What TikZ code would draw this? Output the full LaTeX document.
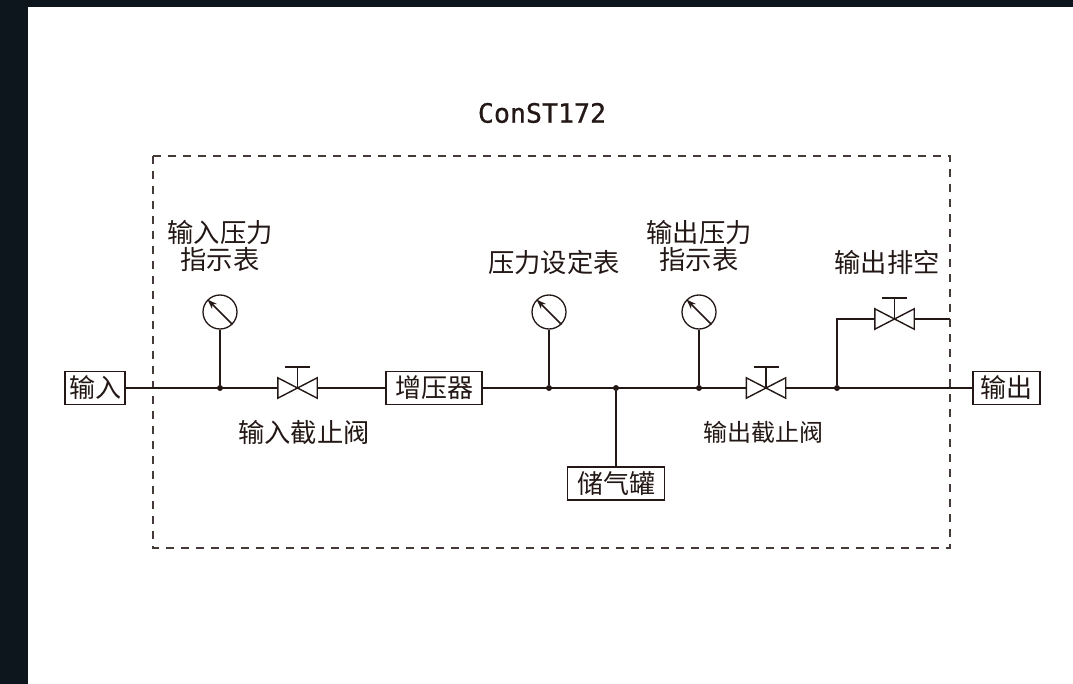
\documentclass[tikz,border=0pt]{standalone}
\usepackage{fontspec}
\setmainfont{Noto Sans CJK SC}
\newfontfamily\titlefont[FakeBold=0.8]{DejaVu Sans Mono}
\usetikzlibrary{arrows.meta}
\definecolor{ink}{HTML}{231815}
\definecolor{frame}{HTML}{0D151D}
\tikzset{
  x=1pt,y=-1pt,
  pipe/.style={draw=ink,line width=1.9pt},
  thin pipe/.style={draw=ink,line width=1.7pt},
  labelbox/.style={draw=ink,line width=1.1pt,fill=white,inner sep=0pt,minimum height=33pt,text=ink,font=\fontsize{26}{28}\selectfont},
  caption/.style={inner sep=0pt,align=center,text=ink,font=\fontsize{26.3}{27}\selectfont},
  narrow caption/.style={caption,font=\fontsize{24}{27}\selectfont},
  gauge/.style={circle,draw=ink,line width=1.3pt,minimum size=34pt,inner sep=0pt},
  valvebox/.style={inner sep=0pt,minimum width=39pt,minimum height=20pt},
  junction/.style={circle,fill=ink,inner sep=0pt,minimum size=6pt},
  symbol/.style={draw=ink,line width=1.4pt},
  handle/.style={draw=ink,line width=1.7pt},
  dashbox/.style={draw=ink!85,line width=1.3pt,dash pattern=on 8pt off 7pt},
}
\newcommand{\gaugemark}[1]{\draw[symbol,line width=1.5pt,-{Stealth[length=10pt,width=7pt]}] (#1.-45) -- (#1.135);}
\newcommand{\valvemark}[1]{%
  \draw[symbol,line join=miter] (#1.north west) -- (#1.south east) -- (#1.north east) -- (#1.south west) -- cycle;
  \draw[handle] (#1.center) -- ++(0,-21) coordinate (#1top);
  \draw[handle] ([xshift=-12.5pt]#1top) -- ([xshift=12.5pt]#1top);}
\begin{document}
\begin{tikzpicture}
\useasboundingbox (0,0) rectangle (1073,684);
\fill[frame] (0,0) rectangle (1073,7);
\fill[frame] (0,0) rectangle (27.5,684);
\node[inner sep=0pt,text=ink] (title) at (542,113) {\fontsize{26.6}{28}\titlefont ConST172};
\draw[dashbox] (153,156) rectangle (950,548);
\node[labelbox,minimum width=60pt] (in) at (95,388) {输入};
\node[labelbox,minimum width=96pt] (boost) at (434,388) {增压器};
\node[labelbox,minimum width=97pt] (tank) at (616,483.5) {储气罐};
\node[labelbox,minimum width=67pt] (out) at (1006.5,388) {输出};
\node[gauge] (g1) at (220,312) {};
\node[gauge] (g2) at (549,312) {};
\node[gauge] (g3) at (699,312) {};
\node[valvebox] (v1) at (297.5,388) {};
\node[valvebox] (v2) at (766,388) {};
\node[valvebox] (v3) at (894.5,319) {};
\node[junction] (j1) at (220,388) {};
\node[junction] (j2) at (549,388) {};
\node[junction] (j3) at (616,388) {};
\node[junction] (j4) at (699,388) {};
\node[junction] (j5) at (837,388) {};
\coordinate (vent) at (950,319);
\draw[pipe] (in.east) -- (j1.center) -- (v1.west);
\draw[pipe] (v1.east) -- (boost.west);
\draw[pipe] (boost.east) -- (j2.center) -- (j3.center) -- (j4.center) -- (v2.west);
\draw[pipe] (v2.east) -- (j5.center) -- (out.west);
\draw[thin pipe] (g1) -- (j1);
\draw[thin pipe] (g2) -- (j2);
\draw[thin pipe] (g3) -- (j4);
\draw[thin pipe] (j3) -- (tank);
\draw[thin pipe] (j5) |- (v3.west);
\draw[pipe] (v3.east) -- (vent);
\gaugemark{g1}\gaugemark{g2}\gaugemark{g3}
\valvemark{v1}\valvemark{v2}\valvemark{v3}
\node[caption] (c1) at (220,245.5) {输入压力\\指示表};
\node[caption] (c2) at (554,262) {压力设定表};
\node[caption] (c3) at (699,245.5) {输出压力\\指示表};
\node[caption] (c4) at (887,262) {输出排空};
\node[caption] (c5) at (304,432) {输入截止阀};
\node[narrow caption] (c6) at (763,432) {输出截止阀};
\end{tikzpicture}
\end{document}
